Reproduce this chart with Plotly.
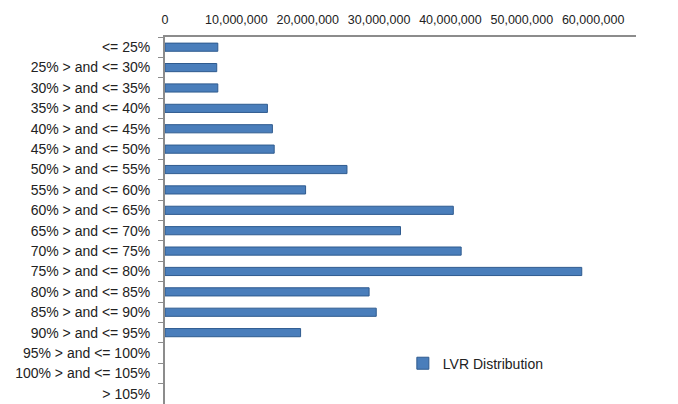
import plotly.graph_objects as go

categories = ["<= 25%", "25% > and <= 30%", "30% > and <= 35%", "35% > and <= 40%",
              "40% > and <= 45%", "45% > and <= 50%", "50% > and <= 55%", "55% > and <= 60%",
              "60% > and <= 65%", "65% > and <= 70%", "70% > and <= 75%", "75% > and <= 80%",
              "80% > and <= 85%", "85% > and <= 90%", "90% > and <= 95%", "95% > and <= 100%",
              "100% > and <= 105%", "> 105%"]
values = [7.4e6, 7.25e6, 7.4e6, 14.35e6, 15.05e6, 15.3e6, 25.5e6, 19.7e6, 40.4e6, 33.0e6,
          41.5e6, 58.4e6, 28.6e6, 29.6e6, 19.0e6, 0, 0, 0]
tick_vals = [0, 10e6, 20e6, 30e6, 40e6, 50e6, 60e6]
tick_text = ["0", "10,000,000", "20,000,000", "30,000,000", "40,000,000", "50,000,000", "60,000,000"]
series_name = "LVR Distribution"

line_widths = [1 if v > 0 else 0 for v in values]

fig = go.Figure()
fig.add_trace(go.Bar(
    y=categories, x=values, orientation="h", name=series_name,
    marker=dict(color="#4a7ebb", line=dict(color="#2f5b8f", width=line_widths)),
    width=0.4, showlegend=True,
))

fig.update_layout(
    width=678, height=404,
    margin=dict(l=165, r=42, t=37, b=0, autoexpand=False),
    paper_bgcolor="white", plot_bgcolor="white",
    font=dict(family="Liberation Sans, Arial, sans-serif", size=14, color="#222222"),
    showlegend=True,
    legend=dict(x=0.505, y=0.11, xanchor="left", yanchor="middle",
                bgcolor="rgba(0,0,0,0)", font=dict(size=14, color="#222222")),
    xaxis=dict(side="top", range=[0, 66e6], tickvals=tick_vals, ticktext=tick_text,
               showgrid=False, zeroline=False, showline=True, linecolor="#8c8c8c",
               linewidth=2, ticks="outside", ticklen=6, tickcolor="rgba(0,0,0,0)",
               tickfont=dict(size=12.5), automargin=False),
    yaxis=dict(categoryorder="array", categoryarray=categories, autorange="reversed",
               showgrid=False, zeroline=False, showline=True, linecolor="#8c8c8c",
               linewidth=2, ticks="outside", ticklen=5, tickcolor="#8c8c8c",
               tickson="boundaries", ticklabelstandoff=10, automargin=False,
               tickfont=dict(size=14)),
)

fig.write_html("out.html", config={"displayModeBar": False},
               post_script="document.body.style.margin='0';")
